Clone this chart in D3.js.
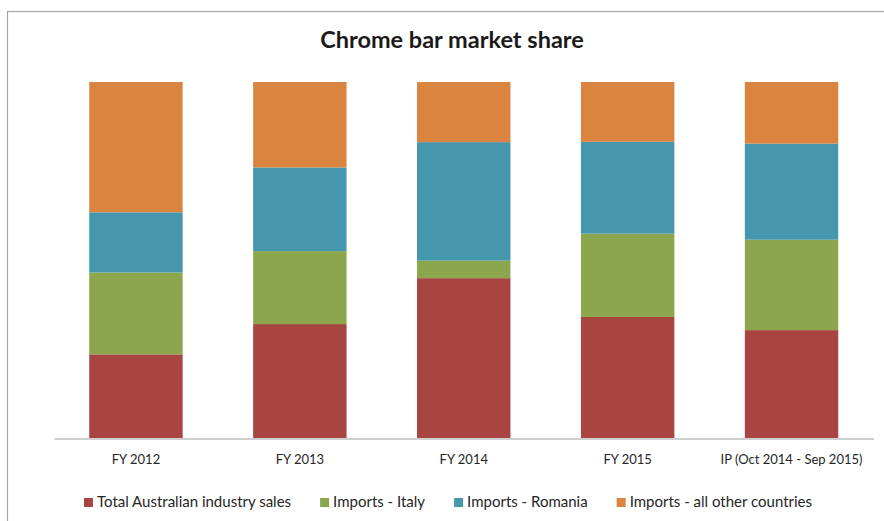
<!DOCTYPE html>
<html>
<head>
<meta charset="utf-8">
<script src="https://cdn.jsdelivr.net/npm/d3@7"></script>
<style>
  html, body { margin: 0; padding: 0; background: #ffffff; }
  svg { display: block; }
  text { font-family: Lato, "Open Sans", sans-serif; }
</style>
</head>
<body>
<script>
// Chrome bar market share, percent of total by source
const categories = ["FY 2012", "FY 2013", "FY 2014", "FY 2015", "IP (Oct 2014 - Sep 2015)"];
const seriesNames = ["Total Australian industry sales", "Imports - Italy", "Imports - Romania", "Imports - all other countries"];
const australianSales = [23.5, 32.0, 44.9, 34.0, 30.3];
const importsItaly    = [23.0, 20.5,  4.9, 23.4, 25.4];
const importsRomania  = [16.9, 23.5, 33.3, 25.8, 27.0];
const importsOther    = [36.6, 24.0, 16.9, 16.8, 17.3];
const seriesColors = ["#a84541", "#8ca64d", "#4497ad", "#da843f"];

const W = 884, H = 521;
const svg = d3.select("body").append("svg").attr("width", W).attr("height", H);

// chart frame
svg.append("rect")
  .attr("x", 7.5).attr("y", 11.5)
  .attr("width", 900).attr("height", 540)
  .attr("fill", "#ffffff")
  .attr("stroke", "#a6a6a6").attr("stroke-width", 1.2);

// title
svg.append("text")
  .attr("x", 452).attr("y", 48)
  .attr("text-anchor", "middle")
  .attr("font-size", 23.5).attr("font-weight", 700)
  .attr("fill", "#1a1a1a")
  .text("Chrome bar market share");

const keys = d3.range(seriesNames.length);
const rows = categories.map((c, i) => ({
  cat: c, 0: australianSales[i], 1: importsItaly[i], 2: importsRomania[i], 3: importsOther[i]
}));
const stacked = d3.stack().keys(keys)(rows);

const x = d3.scaleBand().domain(categories).range([54, 873.5])
  .paddingInner(0.43).paddingOuter(0.215);
const y = d3.scaleLinear().domain([0, 100]).range([438, 82]);

svg.append("g").selectAll("g")
  .data(stacked)
  .join("g")
  .attr("fill", d => seriesColors[d.key])
  .selectAll("rect")
  .data(d => d)
  .join("rect")
  .attr("x", d => x(d.data.cat))
  .attr("width", x.bandwidth())
  .attr("y", d => y(d[1]))
  .attr("height", d => y(d[0]) - y(d[1]));

// category axis
const axis = svg.append("g")
  .attr("transform", "translate(0,438.5)")
  .call(d3.axisBottom(x).tickSize(0).tickPadding(0));
axis.select(".domain").attr("stroke", "#bfbfbf").attr("stroke-width", 1.3);
axis.selectAll("text")
  .attr("dy", null).attr("y", 25)
  .attr("font-family", "Lato, sans-serif")
  .attr("font-size", 13)
  .attr("fill", "#262626");

// legend
const legend = svg.append("g");
const items = legend.selectAll("g").data(keys).join("g");
items.append("rect")
  .attr("width", 9).attr("height", 9)
  .attr("y", 498)
  .attr("fill", d => seriesColors[d]);
items.append("text")
  .attr("x", 13).attr("y", 506.5)
  .attr("font-size", 15)
  .attr("fill", "#262626")
  .text(d => seriesNames[d]);
let cursor = 0;
items.each(function () {
  const g = d3.select(this);
  g.attr("transform", `translate(${cursor},0)`);
  cursor += 13 + g.select("text").node().getComputedTextLength() + 29;
});
const legendWidth = cursor - 29;
legend.attr("transform", `translate(${448 - legendWidth / 2},0)`);
</script>
</body>
</html>
